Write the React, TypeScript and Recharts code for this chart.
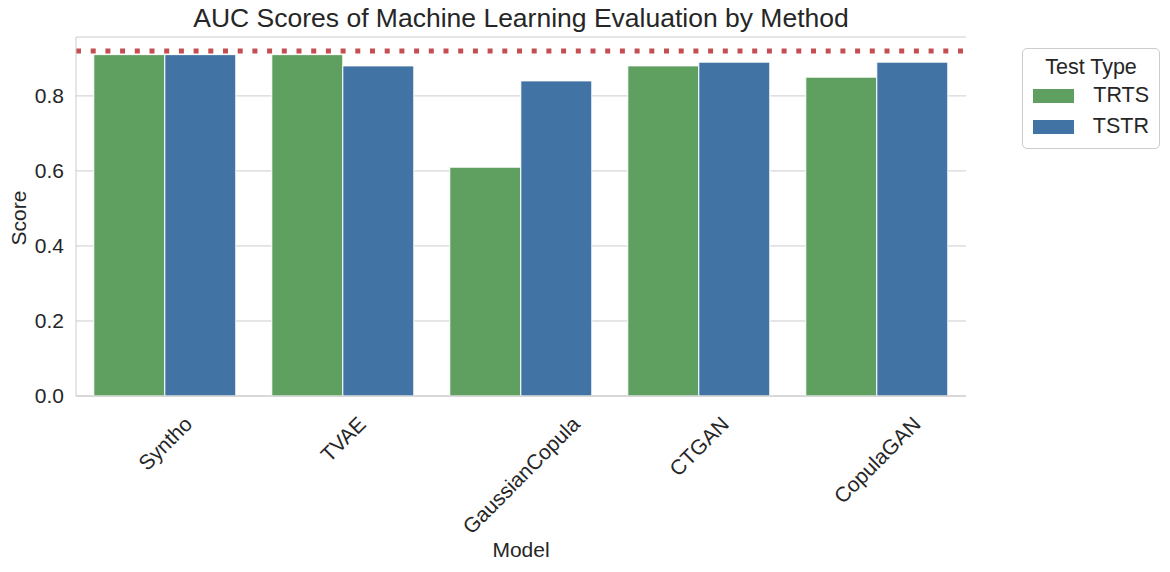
import React from 'react';
import {
  BarChart,
  Bar,
  XAxis,
  YAxis,
  CartesianGrid,
  ReferenceLine,
  Label,
} from 'recharts';

const models = ['Syntho', 'TVAE', 'GaussianCopula', 'CTGAN', 'CopulaGAN'];
const trtsScores = [0.91, 0.91, 0.61, 0.88, 0.85];
const tstrScores = [0.91, 0.88, 0.84, 0.89, 0.89];
const yTicks = [0, 0.2, 0.4, 0.6, 0.8];
const baselineScore = 0.92;

const series = [
  { key: 'TRTS', color: '#5f9f5f' },
  { key: 'TSTR', color: '#4174a4' },
];

const data = models.map((model, i) => ({
  model,
  TRTS: trtsScores[i],
  TSTR: tstrScores[i],
}));

const FONT = '"Liberation Sans", Arial, sans-serif';
const TEXT = '#262626';
const EDGE = '#cccccc';
const TICK_SIZE = 21;

let ctx: CanvasRenderingContext2D | null = null;
const textWidth = (s: string, size: number) => {
  if (!ctx) ctx = document.createElement('canvas').getContext('2d');
  if (!ctx) return s.length * size * 0.55;
  ctx.font = `${size}px ${FONT}`;
  return ctx.measureText(s).width;
};

// matplotlib-style rotated tick: bbox centred on the tick, top just under the axis
const RotatedTick = (props: any) => {
  const { x, y, payload } = props;
  const w = textWidth(payload.value, TICK_SIZE);
  const h = TICK_SIZE * 1.1;
  const cy = y + 14 + ((w + h) * Math.SQRT1_2) / 2;
  return (
    <text
      x={x}
      y={cy}
      textAnchor="middle"
      dominantBaseline="central"
      transform={`rotate(-45 ${x} ${cy})`}
      fontSize={TICK_SIZE}
      fontFamily={FONT}
      fill={TEXT}
    >
      {payload.value}
    </text>
  );
};

const LegendBox = () => (
  <div
    style={{
      position: 'absolute',
      left: 1022,
      top: 48,
      width: 138,
      height: 101,
      border: `1px solid ${EDGE}`,
      borderRadius: 5,
      background: 'white',
      fontFamily: FONT,
      color: TEXT,
      fontSize: 21.5,
      padding: '5px 10px 8px 10px',
      boxSizing: 'border-box',
    }}
  >
    <div style={{ textAlign: 'center', lineHeight: '26px' }}>Test Type</div>
    {series.map((s) => (
      <div
        key={s.key}
        style={{ display: 'flex', alignItems: 'center', height: 31 }}
      >
        <div style={{ width: 42, height: 14, background: s.color }} />
        <span style={{ marginLeft: 19 }}>{s.key}</span>
      </div>
    ))}
  </div>
);

export default function App() {
  return (
    <div
      style={{
        position: 'absolute',
        left: 0,
        top: 0,
        width: 1170,
        height: 572,
        background: 'white',
      }}
    >
      <div
        style={{
          position: 'absolute',
          left: 76,
          width: 890,
          top: 2,
          textAlign: 'center',
          fontFamily: FONT,
          fontSize: 26.5,
          color: TEXT,
          lineHeight: '32px',
        }}
      >
        AUC Scores of Machine Learning Evaluation by Method
      </div>
      <BarChart
        width={1170}
        height={572}
        data={data}
        margin={{ top: 37, right: 204, bottom: 15, left: 16 }}
        barCategoryGap="10%"
        barGap={0}
      >
        <CartesianGrid vertical={false} stroke={EDGE} strokeWidth={1} />
        <XAxis
          dataKey="model"
          height={161}
          interval={0}
          tickLine={false}
          tickSize={0}
          axisLine={{ stroke: EDGE }}
          tick={<RotatedTick />}
        >
          <Label
            value="Model"
            position="insideBottom"
            offset={0}
            fontSize={TICK_SIZE}
            fontFamily={FONT}
            fill={TEXT}
          />
        </XAxis>
        <XAxis
          xAxisId="top"
          dataKey="model"
          orientation="top"
          height={0}
          tick={false}
          tickLine={false}
          axisLine={{ stroke: EDGE }}
        />
        <YAxis
          width={60}
          domain={[0, 0.957]}
          ticks={yTicks}
          tickFormatter={(v: number) => v.toFixed(1)}
          tickLine={false}
          tickSize={0}
          tickMargin={12}
          axisLine={{ stroke: EDGE }}
          tick={{ fontSize: TICK_SIZE, fontFamily: FONT, fill: TEXT }}
          allowDataOverflow
        >
          <Label
            content={() => (
              <text
                x={0}
                y={0}
                transform="translate(26 218) rotate(-90)"
                textAnchor="middle"
                fontSize={TICK_SIZE}
                fontFamily={FONT}
                fill={TEXT}
              >
                Score
              </text>
            )}
          />
        </YAxis>
        <YAxis
          yAxisId="right"
          orientation="right"
          width={0}
          tick={false}
          tickLine={false}
          axisLine={{ stroke: EDGE }}
        />
        {series.map((s) => (
          <Bar
            key={s.key}
            dataKey={s.key}
            name={s.key}
            fill={s.color}
            stroke="#ffffff"
            strokeWidth={1}
            isAnimationActive={false}
          />
        ))}
        <ReferenceLine
          y={baselineScore}
          stroke="#c44e52"
          strokeWidth={5}
          strokeDasharray="5 9.7"
        />
      </BarChart>
      <LegendBox />
    </div>
  );
}
